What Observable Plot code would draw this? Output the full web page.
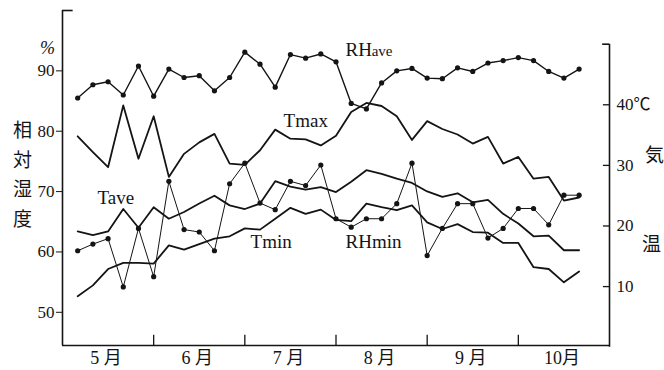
<!DOCTYPE html>
<html><head><meta charset="utf-8">
<script src="https://cdn.jsdelivr.net/npm/d3@7"></script>
<script src="https://cdn.jsdelivr.net/npm/@observablehq/plot@0.6"></script>
<style>html,body{margin:0;padding:0;background:#fff}</style>
</head><body><div id="chart"></div>
<script>
// ---- data (5-day periods, May–October) ----
const months = ["5 月","6 月","7 月","8 月","9 月","10月"];
const monthBounds = [6, 12, 18, 24, 30];
const monthCenters = [3, 9, 15, 21, 27, 33];
const pentads = d3.range(1, 35);
const rhAve = [85.5, 87.7, 88.2, 86.0, 90.8, 85.8, 90.3, 88.9, 89.2, 86.7, 88.9, 93.1, 91.1, 87.3, 92.7, 92.1, 92.8, 91.5,
               84.6, 83.7, 88.0, 90.0, 90.4, 88.8, 88.7, 90.5, 89.9, 91.3, 91.7, 92.2, 91.7, 89.9, 88.8, 90.3];
const rhMin = [60.2, 61.3, 62.2, 54.2, 63.9, 55.9, 71.7, 63.7, 63.3, 60.2, 71.3, 74.7, 68.1, 67.0, 71.7, 71.0, 74.4, 65.5,
               64.1, 65.5, 65.5, 68.0, 74.7, 59.4, 63.9, 68.0, 68.0, 62.3, 63.9, 67.2, 67.2, 64.5, 69.4, 69.4];
const tMax = [34.8, 32.2, 29.7, 39.9, 31.1, 38.1, 28.1, 31.9, 33.8, 35.2, 30.3, 30.1, 32.5, 35.9, 34.4, 34.3, 33.3, 34.9,
              38.8, 40.3, 39.8, 38.1, 34.2, 37.3, 36.0, 35.1, 33.6, 34.7, 30.3, 31.4, 27.8, 28.1, 24.2, 24.7];
const tAve = [19.1, 18.5, 19.1, 22.8, 19.7, 23.1, 21.2, 22.3, 23.7, 25.0, 23.4, 22.8, 23.7, 27.4, 26.5, 26.0, 26.4, 25.6,
              27.3, 29.2, 28.6, 27.8, 27.1, 25.7, 24.8, 25.4, 23.9, 24.3, 22.0, 20.4, 18.3, 18.4, 16.0, 16.0];
const tMin = [8.4, 10.2, 12.9, 13.9, 13.9, 13.8, 16.8, 16.1, 17.0, 17.9, 18.3, 19.6, 19.4, 21.2, 23.0, 22.0, 22.7, 21.0,
              20.8, 23.7, 23.1, 22.6, 23.4, 20.6, 19.5, 20.3, 19.0, 18.9, 17.2, 17.2, 13.2, 12.9, 10.7, 12.5];
const rhTicks = [50, 60, 70, 80, 90];
const tTicks = [10, 20, 30, 40];
const tTickLabels = ["10", "20", "30", "40℃"];

// secondary (temperature) axis expressed in humidity units
const tToY = t => 44.22 + 1.004 * t;
const rows = vals => vals.map((v, i) => ({x: pentads[i], y: v}));
const trows = vals => vals.map((v, i) => ({x: pentads[i], y: tToY(v)}));

const ink = "#141414";
const serif = "'Liberation Serif','Noto Sans CJK JP',serif";
const cjk = "'Noto Sans CJK JP','Liberation Serif',sans-serif";

const chart = Plot.plot({
  width: 664, height: 370,
  marginLeft: 62, marginRight: 55, marginTop: 10, marginBottom: 25,
  x: {domain: [0, 36]},
  y: {domain: [44.5, 100]},
  style: {fontFamily: serif, background: "#fff", color: ink},
  marks: [
    // frame
    Plot.ruleX([0], {y1: 44.5, y2: 100, stroke: ink, strokeWidth: 1.6}),
    Plot.ruleY([100], {x1: 0, x2: 0.7, stroke: ink, strokeWidth: 1.6}),
    Plot.ruleY([44.5], {x1: 0, x2: 36, stroke: ink, strokeWidth: 1.6}),
    Plot.ruleX([36], {y1: tToY(0), y2: tToY(50), stroke: ink, strokeWidth: 1.6}),
    Plot.ruleY([tToY(50)], {x1: 35.55, x2: 36, stroke: ink, strokeWidth: 1.6}),
    // left axis (RH)
    Plot.axisY({ticks: rhTicks, anchor: "left", tickSize: 6, tickPadding: 2, fontSize: 17, label: null, tickFormat: d => d}),
    // right axis (temperature)
    Plot.ruleY(tTicks.map(tToY), {x1: 35.6, x2: 36, stroke: ink, strokeWidth: 1.3}),
    Plot.text(tTicks, {x: 36, y: tToY, text: tTickLabels, dx: 7, textAnchor: "start", fontSize: 17, fill: ink}),
    // bottom axis
    Plot.ruleX(monthBounds, {y1: 44.5, y2: 46.2, stroke: ink, strokeWidth: 1.3}),
    Plot.axisX({ticks: monthCenters, tickSize: 0, tickPadding: 6, fontSize: 18, label: null, dx: -2,
                fontFamily: serif, tickFormat: d => months[Math.round((d - 3) / 6)]}),
    // axis titles
    Plot.text(["%"], {frameAnchor: "top-left", dx: -15, dy: 38, text: d => d, textAnchor: "middle", lineAnchor: "middle",
                      fontSize: 18, fontStyle: "italic", fill: ink}),
    Plot.text(["相\n対\n湿\n度"], {frameAnchor: "left", dx: -40, dy: -6, text: d => d, textAnchor: "middle",
                               lineAnchor: "middle", fontSize: 19, lineHeight: 1.55, fontFamily: cjk, fill: ink}),
    Plot.text(["気"], {frameAnchor: "right", dx: 45, dy: -22, text: d => d, textAnchor: "middle", lineAnchor: "middle",
                      fontSize: 19, fontFamily: cjk, fill: ink}),
    Plot.text(["温"], {frameAnchor: "right", dx: 42, dy: 67, text: d => d, textAnchor: "middle", lineAnchor: "middle",
                      fontSize: 19, fontFamily: cjk, fill: ink}),
    // series
    Plot.line(trows(tMax), {x: "x", y: "y", stroke: ink, strokeWidth: 1.8}),
    Plot.line(trows(tAve), {x: "x", y: "y", stroke: ink, strokeWidth: 1.8}),
    Plot.line(trows(tMin), {x: "x", y: "y", stroke: ink, strokeWidth: 1.8}),
    Plot.line(rows(rhAve), {x: "x", y: "y", stroke: ink, strokeWidth: 1.4}),
    Plot.dot(rows(rhAve), {x: "x", y: "y", r: 2.6, fill: ink}),
    Plot.line(rows(rhMin), {x: "x", y: "y", stroke: ink, strokeWidth: 1.0}),
    Plot.dot(rows(rhMin), {x: "x", y: "y", r: 2.6, fill: ink}),
    // series labels
    Plot.text([0], {x: 18.63, y: 92.5, text: ["RH"], textAnchor: "start", lineAnchor: "bottom", fontSize: 19, fill: ink}),
    Plot.text([0], {x: 20.35, y: 92.5, text: ["ave"], textAnchor: "start", lineAnchor: "bottom", fontSize: 15, fill: ink,
                    style: "letter-spacing:1.5px"}),
    Plot.text([0], {x: 14.55, y: 80.7, text: ["Tmax"], textAnchor: "start", lineAnchor: "bottom", fontSize: 19, fill: ink}),
    Plot.text([0], {x: 2.3, y: 68.0, text: ["Tave"], textAnchor: "start", lineAnchor: "bottom", fontSize: 19, fill: ink}),
    Plot.text([0], {x: 12.38, y: 60.6, text: ["Tmin"], textAnchor: "start", lineAnchor: "bottom", fontSize: 19, fill: ink}),
    Plot.text([0], {x: 18.63, y: 60.7, text: ["RHmin"], textAnchor: "start", lineAnchor: "bottom", fontSize: 19, fill: ink})
  ]
});
document.getElementById("chart").appendChild(chart);
</script>
</body></html>
